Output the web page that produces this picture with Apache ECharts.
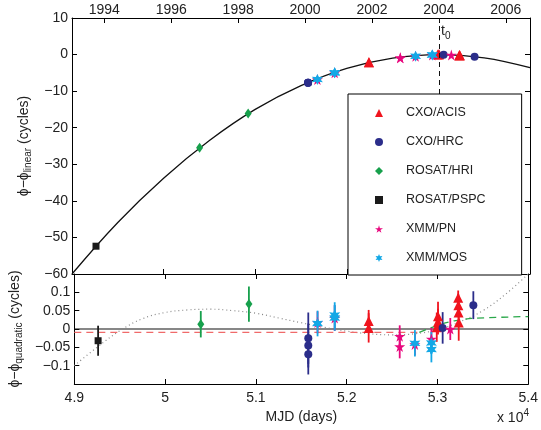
<!DOCTYPE html>
<html><head><meta charset="utf-8">
<script src="https://cdn.jsdelivr.net/npm/echarts@6/dist/echarts.min.js"></script>
<style>html,body{margin:0;padding:0;background:#fff}#c{width:541px;height:430px}</style>
</head><body><div id="c"></div>
<script>
// ---- tick labels ----
const YEAR_LABELS = [1994, 1996, 1998, 2000, 2002, 2004, 2006];
const T0_MJD = 53005;

// ---- model curve (top panel) ----
const CURVE_X = [49000, 49500, 50000, 50500, 51000, 51500, 52000, 52500, 53000, 53500, 54000];
const CURVE_Y = [-60.0, -45.9, -33.8, -23.5, -15.0, -8.5, -3.8, -1.0, 0.0, -0.9, -3.6];

// ---- residual model lines (bottom panel) ----
const DOT_X = [49000, 49250, 49500, 49750, 50000, 50250, 50500, 50750, 51000, 51250, 51500, 51750, 52000, 52250, 52500, 52750, 53000, 53250, 53500, 53750, 54000];
const DOT_Y = [-0.100, -0.050, -0.005, 0.028, 0.045, 0.052, 0.054, 0.050, 0.043, 0.030, 0.017, 0.005, -0.006, -0.013, -0.016, -0.013, -0.002, 0.020, 0.050, 0.095, 0.150];
const RED_X = [49000, 52800];
const RED_Y = [-0.009, -0.009];
const GREEN_X = [52800, 52890, 52960, 53050, 53200, 53380, 54000];
const GREEN_Y = [-0.009, 0.000, 0.006, 0.014, 0.023, 0.029, 0.034];

// ---- data per instrument ----
const ACIS_MJD = [52242, 52242, 52992, 53006, 53006, 53228, 53230, 53232, 53234];
const ACIS_LIN = [-2.1, -2.1, 0.0, 0.1, 0.1, -0.2, -0.2, -0.2, -0.2];
const ACIS_RES = [0.022, 0.003, 0.005, 0.035, 0.020, 0.085, 0.065, 0.045, 0.018];
const ACIS_ERR = [0.030, 0.040, 0.040, 0.039, 0.035, 0.020, 0.030, 0.035, 0.050];

const HRC_MJD = [51577, 51577, 51577, 53057, 53395];
const HRC_LIN = [-7.7, -7.7, -7.7, -0.05, -0.6];
const HRC_RES = [-0.025, -0.045, -0.069, 0.003, 0.065];
const HRC_ERR = [0.070, 0.060, 0.055, 0.043, 0.038];

const HRI_MJD = [50393, 50923];
const HRI_LIN = [-25.5, -16.1];
const HRI_RES = [0.013, 0.068];
const HRI_ERR = [0.036, 0.048];

const PSPC_MJD = [49262];
const PSPC_LIN = [-52.4];
const PSPC_RES = [-0.032];
const PSPC_ERR = [0.041];

const PN_MJD = [51679, 51868, 52584, 52584, 52751, 52933, 53141];
const PN_LIN = [-6.8, -5.0, -0.9, -0.9, -0.45, -0.1, -0.1];
const PN_RES = [0.018, 0.030, -0.020, -0.048, -0.042, -0.027, 0.000];
const PN_ERR = [0.030, 0.035, 0.030, 0.032, 0.030, 0.030, 0.030];

const MOS_MJD = [51679, 51868, 51868, 52751, 52933, 52933];
const MOS_LIN = [-6.8, -5.0, -5.0, -0.45, -0.1, -0.1];
const MOS_RES = [0.015, 0.038, 0.030, -0.039, -0.038, -0.056];
const MOS_ERR = [0.035, 0.035, 0.035, 0.036, 0.030, 0.035];

const STAR5 = 'path://M50,0 L61,35 L98,35 L68,57 L79,91 L50,70 L21,91 L32,57 L2,35 L39,35 Z';
const STAR6 = 'path://M50,0 L62,28 L93,25 L75,50 L93,75 L62,72 L50,100 L38,72 L7,75 L25,50 L7,25 L38,28 Z';

const INSTR = [
  {name:'CXO/ACIS', color:'#f0141e', symbol:'triangle', size:[10,10], mjd:ACIS_MJD, lin:ACIS_LIN, res:ACIS_RES, err:ACIS_ERR},
  {name:'CXO/HRC', color:'#2b2d8a', symbol:'circle', size:8, mjd:HRC_MJD, lin:HRC_LIN, res:HRC_RES, err:HRC_ERR},
  {name:'ROSAT/HRI', color:'#17a04c', symbol:'diamond', size:[7,10], mjd:HRI_MJD, lin:HRI_LIN, res:HRI_RES, err:HRI_ERR},
  {name:'ROSAT/PSPC', color:'#1a1a1a', symbol:'rect', size:7, mjd:PSPC_MJD, lin:PSPC_LIN, res:PSPC_RES, err:PSPC_ERR},
  {name:'XMM/PN', color:'#e8087e', symbol:STAR5, size:11, mjd:PN_MJD, lin:PN_LIN, res:PN_RES, err:PN_ERR},
  {name:'XMM/MOS', color:'#13a8e6', symbol:STAR6, size:11, mjd:MOS_MJD, lin:MOS_LIN, res:MOS_RES, err:MOS_ERR}
];

function mjdOfYear(y){ return Math.round((Date.UTC(y,0,1) - Date.UTC(1858,10,17))/86400000); }
const YEAR_MJD = YEAR_LABELS.map(mjdOfYear);

const FONT = 'Liberation Sans, Arial, Helvetica, sans-serif';
const minus = s => String(s).replace('-', '\u2212');
const axisCommon = {
  axisLine:{show:true, onZero:false, lineStyle:{color:'#000', width:1}},
  axisTick:{show:true, inside:true, length:5, lineStyle:{color:'#000'}},
  splitLine:{show:false},
  axisLabel:{color:'#222', fontFamily:FONT, fontSize:14}
};
function ax(extra){ return echarts.util.merge(echarts.util.clone(axisCommon), extra, true); }

const series = [];
// top curve
series.push({
  type:'line', xAxisIndex:0, yAxisIndex:0, data:CURVE_X.map((x,i)=>[x,CURVE_Y[i]]),
  smooth:0.4, showSymbol:false, silent:true, lineStyle:{color:'#111', width:1.3}, z:1,
  markLine:{silent:true, symbol:'none', label:{show:false},
    lineStyle:{color:'#111', type:[5,4], width:1}, data:[{xAxis:T0_MJD}]}
});
// bottom lines
series.push({type:'line', xAxisIndex:2, yAxisIndex:2, data:[[49000,0],[54000,0]], showSymbol:false, silent:true, lineStyle:{color:'#111', width:1.2}, z:1});
series.push({type:'line', xAxisIndex:2, yAxisIndex:2, data:DOT_X.map((x,i)=>[x,DOT_Y[i]]), smooth:0.4, showSymbol:false, silent:true, lineStyle:{color:'#888', width:1.2, type:[1,3]}, z:1});
series.push({type:'line', xAxisIndex:2, yAxisIndex:2, data:RED_X.map((x,i)=>[x,RED_Y[i]]), showSymbol:false, silent:true, lineStyle:{color:'#f06a6a', width:1.3, type:[7,5]}, z:1});
series.push({type:'line', xAxisIndex:2, yAxisIndex:2, data:GREEN_X.map((x,i)=>[x,GREEN_Y[i]]), smooth:0.3, showSymbol:false, silent:true, lineStyle:{color:'#2aa84a', width:1.3, type:[7,5]}, z:1});

INSTR.forEach((s, k) => {
  series.push({
    name:s.name, type:'scatter', xAxisIndex:0, yAxisIndex:0,
    data:s.mjd.map((x,i)=>[x, s.lin[i]]), symbol:s.symbol, symbolSize:s.size,
    itemStyle:{color:s.color, opacity:1}, z:3+k
  });
  series.push({
    type:'custom', xAxisIndex:2, yAxisIndex:2, silent:true, z:2,
    data:s.mjd.map((x,i)=>[x, s.res[i], s.err[i]]),
    encode:{x:0, y:1},
    renderItem:(params, api) => {
      const x = api.value(0), y = api.value(1), e = api.value(2);
      const p1 = api.coord([x, y + e]), p2 = api.coord([x, y - e]);
      return {type:'line', shape:{x1:p1[0], y1:p1[1], x2:p2[0], y2:p2[1]}, style:{stroke:s.color, lineWidth:1.8}};
    }
  });
  series.push({
    name:s.name, type:'scatter', xAxisIndex:2, yAxisIndex:2,
    data:s.mjd.map((x,i)=>[x, s.res[i]]), symbol:s.symbol, symbolSize:s.size,
    itemStyle:{color:s.color, opacity:1}, z:10+k
  });
});

const chart = echarts.init(document.getElementById('c'), null, {renderer:'canvas'});
chart.setOption({
  animation:false,
  backgroundColor:'#fff',
  textStyle:{fontFamily:FONT},
  grid:[
    {left:72, right:11, top:18, height:256},
    {left:72, right:11, top:274, height:110}
  ],
  xAxis:[
    ax({gridIndex:0, type:'value', position:'bottom', min:49000, max:54000, interval:1000, axisLabel:{show:false}}),
    ax({gridIndex:0, type:'value', position:'top', min:49000, max:54000,
        axisTick:{customValues:YEAR_MJD},
        axisLabel:{margin:1, customValues:YEAR_MJD, formatter:v => { const i = YEAR_MJD.indexOf(Math.round(v)); return i >= 0 ? String(YEAR_LABELS[i]) : ''; }}}),
    ax({gridIndex:1, type:'value', position:'bottom', min:49000, max:54000, interval:1000,
        name:'MJD (days)', nameLocation:'middle', nameGap:26,
        nameTextStyle:{color:'#222', fontFamily:FONT, fontSize:14},
        axisLabel:{margin:7, formatter:v => String(Math.round(v/100)/100)}}),
    ax({gridIndex:1, type:'value', position:'top', min:49000, max:54000, interval:1000, axisLabel:{show:false}})
  ],
  yAxis:[
    ax({gridIndex:0, type:'value', position:'left', min:-60, max:10, interval:10,
        name:'{a|\u03d5\u2212\u03d5}{s|linear}{a| (cycles)}', nameLocation:'middle', nameGap:37, nameRotate:90,
        nameTextStyle:{rich:{a:{fontSize:14, fontFamily:FONT, color:'#222'}, s:{fontSize:10, fontFamily:FONT, color:'#222', padding:[8,0,0,0]}}},
        axisLabel:{margin:4, formatter:v => minus(v)}}),
    ax({gridIndex:0, type:'value', position:'right', min:-60, max:10, interval:10, axisLabel:{show:false}}),
    ax({gridIndex:1, type:'value', position:'left', min:-0.15, max:0.15, interval:0.05,
        name:'{a|\u03d5\u2212\u03d5}{s|quadratic}{a| (cycles)}', nameLocation:'middle', nameGap:41, nameRotate:90,
        nameTextStyle:{rich:{a:{fontSize:14, fontFamily:FONT, color:'#222'}, s:{fontSize:10, fontFamily:FONT, color:'#222', padding:[8,0,0,0]}}},
        axisLabel:{margin:4, formatter:v => { if (Math.abs(v) > 0.12) return ''; const r = Math.round(v*100)/100; return minus(r); }}}),
    ax({gridIndex:1, type:'value', position:'right', min:-0.15, max:0.15, interval:0.05, axisLabel:{show:false}})
  ],
  legend:{
    data:INSTR.map(s=>s.name), orient:'vertical', left:348, top:94,
    itemWidth:8, itemHeight:8, itemGap:15,
    padding:[12, 36, 10, 27], borderColor:'#000', borderWidth:1, backgroundColor:'#fff',
    textStyle:{fontFamily:FONT, fontSize:12.5, color:'#222', padding:[0,0,0,18], lineHeight:14},
    selectedMode:false, z:20
  },
  graphic:[
    {type:'text', left:441, top:24, z:30, style:{text:'{a|t}{s|0}', fill:'#222',
      rich:{a:{fontSize:14, fontFamily:FONT, fill:'#222'}, s:{fontSize:10, fontFamily:FONT, fill:'#222', padding:[10,0,0,0]}}}},
    {type:'text', right:12, top:408, z:30, style:{text:'{a|x 10}{s|4}', fill:'#222',
      rich:{a:{fontSize:14, fontFamily:FONT, fill:'#222'}, s:{fontSize:10, fontFamily:FONT, fill:'#222', padding:[0,0,10,0]}}}}
  ],
  series:series
});
</script></body></html>
